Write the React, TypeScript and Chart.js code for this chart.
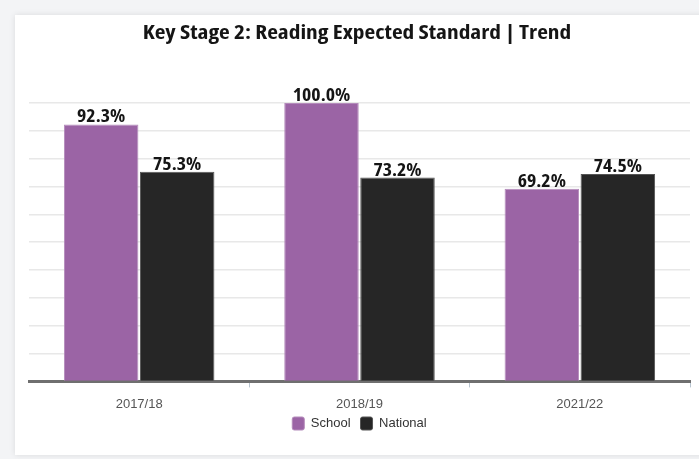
import React, { useEffect, useRef } from "react";
import { Chart, registerables } from "chart.js";

Chart.register(...registerables);

const categories = ["2017/18", "2018/19", "2021/22"];
const schoolValues = [92.3, 100.0, 69.2];
const nationalValues = [75.3, 73.2, 74.5];
const seriesNames = ["School", "National"];
const yTicks = [0, 10, 20, 30, 40, 50, 60, 70, 80, 90, 100];
const titleText = "Key Stage 2: Reading Expected Standard | Trend";

const COND = "'Open Sans', 'Liberation Sans', sans-serif";
const SANS = "'Liberation Sans', Arial, sans-serif";

const LEGEND_PAD = 10;

function drawStretched(ctx: any, text: string, x: number, y: number, sx: number) {
  ctx.save();
  ctx.translate(x, y);
  ctx.scale(sx, 1);
  ctx.fillText(text, 0, 0);
  ctx.restore();
}

const textDecor = {
  id: "textDecor",
  afterLayout(chart: any) {
    // pull legend items up so the wider item spacing does not push them down
    if (chart.legend) chart.legend.top -= LEGEND_PAD - 2;
  },
  afterDatasetsDraw(chart: any) {
    const ctx = chart.ctx;
    // value labels
    ctx.save();
    ctx.font = `bold 18px ${COND}`;
    ctx.fontStretch = "condensed";
    ctx.fillStyle = "#151515";
    ctx.textAlign = "center";
    ctx.textBaseline = "alphabetic";
    chart.data.datasets.forEach((ds: any, di: number) => {
      const meta = chart.getDatasetMeta(di);
      meta.data.forEach((el: any, i: number) => {
        const v = ds.data[i];
        drawStretched(ctx, v.toFixed(1) + "%", el.x, el.y - 2, 1.1);
      });
    });
    ctx.restore();
    // title
    ctx.save();
    ctx.font = `bold 19px ${COND}`;
    ctx.fontStretch = "condensed";
    ctx.fillStyle = "#151515";
    ctx.textAlign = "center";
    ctx.textBaseline = "alphabetic";
    drawStretched(ctx, titleText, chart.width / 2, 24, 1.23);
    ctx.restore();
  },
};

export default function App() {
  const ref = useRef<HTMLCanvasElement>(null);
  useEffect(() => {
    if (!ref.current) return;
    const chart = new Chart(ref.current, {
      type: "bar",
      data: {
        labels: categories,
        datasets: [
          {
            label: seriesNames[0],
            data: schoolValues,
            backgroundColor: "#9b64a5",
            borderColor: "#b48bbb",
            borderWidth: 1,
            barPercentage: 0.98,
            categoryPercentage: 0.69,
          },
          {
            label: seriesNames[1],
            data: nationalValues,
            backgroundColor: "#262626",
            borderColor: "#555555",
            borderWidth: 1,
            barPercentage: 0.98,
            categoryPercentage: 0.69,
          },
        ],
      },
      options: {
        animation: false,
        responsive: true,
        maintainAspectRatio: false,
        layout: { padding: { top: 88, left: 14, right: 9, bottom: 15 } },
        plugins: {
          title: { display: false },
          legend: {
            position: "bottom",
            maxHeight: 25,
            labels: {
              color: "#333333",
              font: { family: SANS, size: 13 },
              boxWidth: 12,
              boxHeight: 13,
              padding: LEGEND_PAD,
              useBorderRadius: true,
              borderRadius: 2,
            },
          },
          tooltip: { enabled: false },
        },
        scales: {
          x: {
            grid: {
              display: true,
              drawOnChartArea: false,
              drawTicks: true,
              tickLength: 6,
              color: (c: any) =>
                c.index === 0 || c.index === categories.length ? "rgba(0,0,0,0)" : "#b8c4cf",
              lineWidth: 1,
            },
            border: { display: true, color: "#6f6f6f", width: 3 },
            ticks: {
              color: "#555555",
              font: { family: SANS, size: 13 },
              padding: 9,
            },
            afterFit: (axis: any) => {
              axis.height -= 6;
            },
          },
          y: {
            min: 0,
            max: 100,
            afterBuildTicks: (axis: any) => {
              axis.ticks = yTicks.map((v) => ({ value: v }));
            },
            afterFit: (axis: any) => {
              axis.width = 0;
            },
            ticks: { display: false },
            grid: { color: "#e8e8e8", lineWidth: 1.5, drawTicks: false },
            border: { display: false },
          },
        },
      },
      plugins: [textDecor],
    });
    return () => chart.destroy();
  }, []);

  return (
    <div
      style={{
        position: "fixed",
        left: 0,
        top: 0,
        width: 699,
        height: 459,
        background: "#f3f4f6",
        overflow: "hidden",
      }}
    >
      <div
        style={{
          position: "absolute",
          left: 15,
          top: 15,
          width: 720,
          height: 440,
          background: "#ffffff",
          boxShadow: "0 0 6px rgba(0,0,0,0.10)",
        }}
      >
        <div style={{ position: "relative", width: 684, height: 440 }}>
          <canvas ref={ref} />
        </div>
      </div>
    </div>
  );
}
